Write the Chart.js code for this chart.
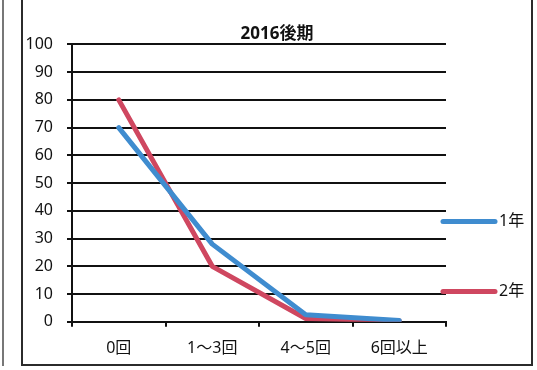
<!DOCTYPE html>
<html>
<head>
<meta charset="utf-8">
<script src="https://cdn.jsdelivr.net/npm/chart.js@4"></script>
<style>
  body { margin: 0; background: #fff; }
  #scanline { position: absolute; left: 2px; top: 0; width: 2px; height: 366px; background: #777; }
  #frame { position: absolute; left: 21px; top: -4px; width: 508px; height: 366px; border: 2px solid #2b2b2b; }
  #myGraph { position: absolute; left: 0; top: 0; }
</style>
</head>
<body>
<div id="scanline"></div>
<div id="frame"></div>
<canvas id="myGraph" width="537" height="370"></canvas>
<script>
// 2016後期 - counts per category
var categories = ["0回", "1～3回", "4～5回", "6回以上"];
var seriesNames = ["1年", "2年"];
var year1 = [70, 28, 2.5, 0.5];
var year2 = [80, 20, 1.2, 0.4];
var yMin = 0;
var yMax = 100;
var yStep = 10;

var fontFamily = "'Noto Sans', 'Noto Sans CJK JP', sans-serif";

// legend drawn as a short thick line + label, to the right of the plot
var lineLegend = {
  id: "lineLegend",
  afterDraw: function(chart) {
    var ctx = chart.ctx;
    var area = chart.chartArea;
    var rowOffsets = [177, 247];
    ctx.save();
    chart.data.datasets.forEach(function(ds, i) {
      var y = area.top + rowOffsets[i];
      ctx.strokeStyle = ds.borderColor;
      ctx.lineWidth = 5;
      ctx.lineCap = "round";
      ctx.beginPath();
      ctx.moveTo(area.right - 3, y);
      ctx.lineTo(area.right + 49, y);
      ctx.stroke();
      ctx.fillStyle = "#111";
      ctx.font = "16px " + fontFamily;
      ctx.textBaseline = "middle";
      ctx.textAlign = "left";
      ctx.fillText(ds.label, area.right + 53, y);
    });
    ctx.restore();
  }
};

var graph = document.getElementById("myGraph").getContext("2d");

new Chart(graph, {
  type: "line",
  data: {
    labels: categories,
    datasets: [
      {
        label: seriesNames[0],
        data: year1,
        borderColor: "#3f8ccf",
        borderWidth: 5
      },
      {
        label: seriesNames[1],
        data: year2,
        borderColor: "#cf4760",
        borderWidth: 5
      }
    ]
  },
  options: {
    responsive: false,
    animation: false,
    layout: {
      padding: { left: 22, right: 5, top: 0, bottom: 0 }
    },
    elements: {
      line: { tension: 0, borderCapStyle: "round", borderJoinStyle: "round" },
      point: { radius: 0 }
    },
    plugins: {
      legend: { display: false },
      tooltip: { enabled: false },
      title: {
        display: true,
        text: "2016後期",
        color: "#111",
        font: { family: fontFamily, size: 17, weight: "bold" },
        padding: { top: 24, bottom: 0 }
      }
    },
    scales: {
      x: {
        offset: true,
        grid: {
          offset: true,
          drawOnChartArea: false,
          drawTicks: true,
          tickLength: 5,
          color: "#111",
          lineWidth: 2
        },
        border: { display: true, color: "#111", width: 2 },
        ticks: {
          color: "#111",
          padding: 12,
          font: { family: fontFamily, size: 16 }
        }
      },
      y: {
        min: yMin,
        max: yMax,
        afterFit: function(scale) { scale.width = 50; },
        grid: {
          color: "#111",
          lineWidth: 2,
          tickLength: 5
        },
        border: { display: true, color: "#111", width: 2 },
        ticks: {
          stepSize: yStep,
          color: "#111",
          padding: 14,
          font: { family: fontFamily, size: 16 }
        }
      },
      // empty right-hand scale that only reserves room for the legend
      legendSpace: {
        position: "right",
        display: true,
        afterFit: function(scale) { scale.width = 86; },
        grid: { display: false },
        border: { display: false },
        ticks: { display: false }
      }
    }
  },
  plugins: [lineLegend]
});
</script>
</body>
</html>
